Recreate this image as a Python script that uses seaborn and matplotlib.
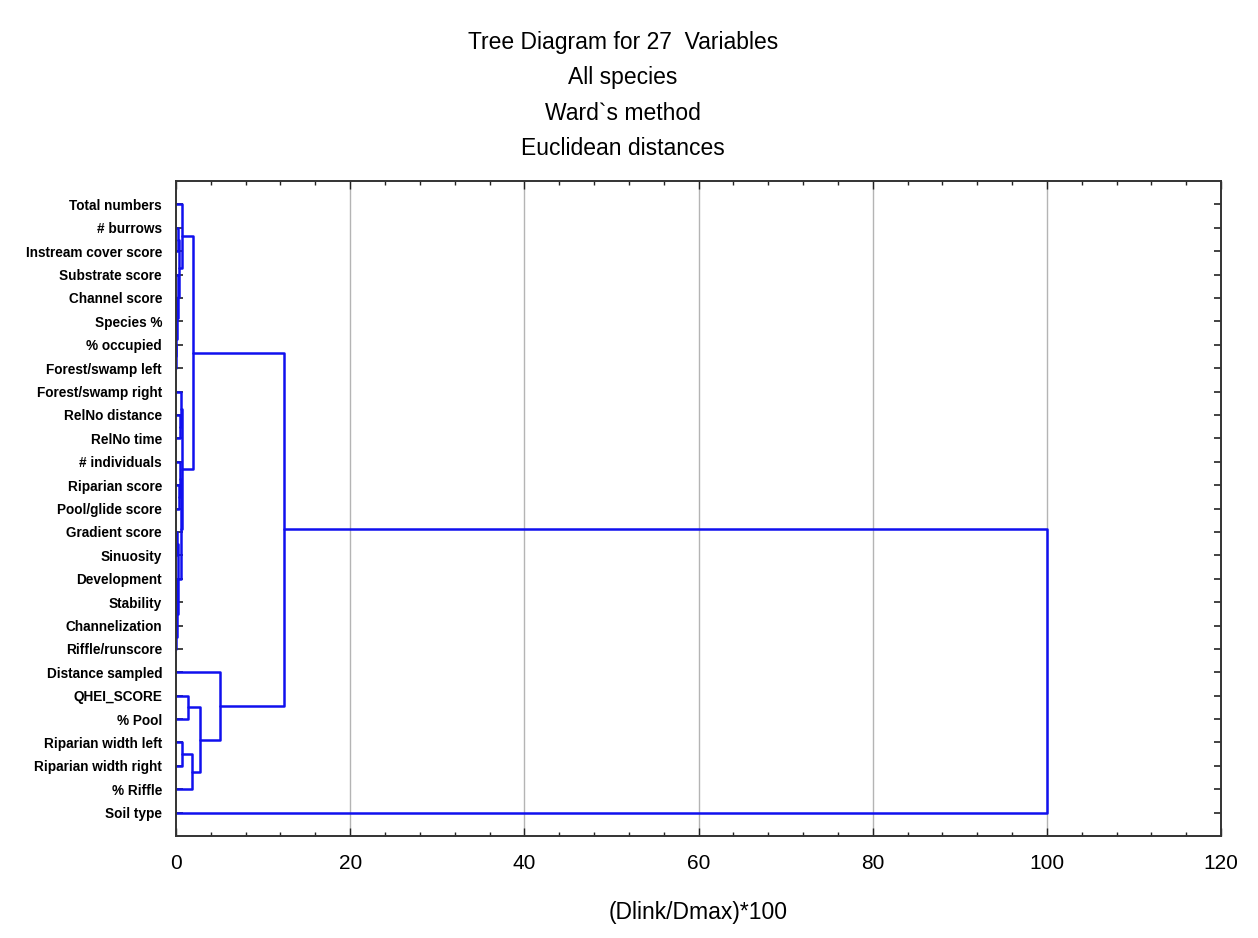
import matplotlib
matplotlib.use("Agg")
import matplotlib.pyplot as plt
from matplotlib.ticker import MultipleLocator
import numpy as np
import pandas as pd
import seaborn as sns

# Leaf variables, in dendrogram order (top to bottom)
variables = [
    "Total numbers", "# burrows", "Instream cover score", "Substrate score",
    "Channel score", "Species %", "% occupied", "Forest/swamp left",
    "Forest/swamp right", "RelNo distance", "RelNo time", "# individuals",
    "Riparian score", "Pool/glide score", "Gradient score", "Sinuosity",
    "Development", "Stability", "Channelization", "Riffle/runscore",
    "Distance sampled", "QHEI_SCORE", "% Pool", "Riparian width left",
    "Riparian width right", "% Riffle", "Soil type",
]

# Ward linkage steps: children are variable names or "@k" (k-th earlier merge);
# heights are (Dlink/Dmax)*100
merge_left = [
    "RelNo distance", "Forest/swamp right", "Riparian score", "# individuals",
    "Gradient score", "Development", "Channelization", "@5", "@4", "@3", "@1",
    "% occupied", "Species %", "Channel score", "Substrate score", "# burrows",
    "@15", "Total numbers", "@17", "Riparian width left", "@19", "QHEI_SCORE",
    "@21", "Distance sampled", "@18", "@24",
]
merge_right = [
    "RelNo time", "@0", "Pool/glide score", "@2", "Sinuosity", "Stability",
    "Riffle/runscore", "@6", "@7", "@8", "@9", "Forest/swamp left", "@11",
    "@12", "@13", "Instream cover score", "@14", "@16", "@10",
    "Riparian width right", "% Riffle", "% Pool", "@20", "@22", "@23",
    "Soil type",
]
merge_height = [
    0.5, 0.6, 0.4, 0.5, 0.1, 0.08, 0.03, 0.12, 0.2, 0.55, 0.7,
    0.02, 0.03, 0.1, 0.2, 0.25, 0.4, 0.7, 1.95, 0.65, 1.88, 1.41,
    2.76, 5.05, 12.4, 100.0,
]

x_ticks = [0, 20, 40, 60, 80, 100, 120]

leaf_pos = {name: i for i, name in enumerate(variables)}


def node(ref, placed):
    if ref.startswith("@"):
        return placed[int(ref[1:])]
    return (leaf_pos[ref], 0.0)


# Build the bracket segments of every merge
rows = []
placed = []
for k, (l, r, h) in enumerate(zip(merge_left, merge_right, merge_height)):
    yl, hl = node(l, placed)
    yr, hr = node(r, placed)
    xs = [hl, h, h, hr]
    ys = [yl, yl, yr, yr]
    for j, (xv, yv) in enumerate(zip(xs, ys)):
        rows.append({"link": k, "order": j, "dist": xv, "pos": yv})
    placed.append(((yl + yr) / 2.0, h))
segments = pd.DataFrame(rows)

sns.set_theme(style="white")
plt.rcParams["font.family"] = ["Liberation Sans", "DejaVu Sans"]

fig = plt.figure(figsize=(12.58, 9.38), dpi=100, facecolor="white")
ax = fig.add_axes([0.1399, 0.1087, 0.8307, 0.6983])

for xv in x_ticks[1:-1]:
    ax.axvline(xv, color="#b4b4b4", lw=1.0, zorder=0)

sns.lineplot(data=segments, x="dist", y="pos", units="link", estimator=None,
             sort=False, color="#1010ee", lw=1.8, ax=ax, legend=False)

ax.set_xlim(0, 120)
ax.set_ylim(len(variables), -1)
ax.set_xticks(x_ticks)
ax.set_xticklabels([str(v) for v in x_ticks], fontsize=15)
ax.xaxis.set_minor_locator(MultipleLocator(4))
ax.set_yticks(range(len(variables)))
ax.set_yticklabels(variables, fontsize=9.8, fontweight="bold")

ax.tick_params(axis="x", which="major", direction="in", length=6, width=1,
               pad=13, top=True, bottom=True, colors="#222222")
ax.tick_params(axis="x", which="minor", direction="in", length=3, width=1,
               top=True, bottom=True, colors="#222222")
ax.tick_params(axis="y", direction="in", length=5, width=1.2, pad=10,
               left=True, right=True, colors="#222222")
for lab in ax.get_xticklabels() + ax.get_yticklabels():
    lab.set_color("black")

for s in ax.spines.values():
    s.set_color("#333333")
    s.set_linewidth(1.4)

ax.set_xlabel("(Dlink/Dmax)*100", fontsize=16.5, labelpad=20, color="black")
ax.set_ylabel("")

title_lines = ["Tree Diagram for 27  Variables", "All species",
               "Ward`s method", "Euclidean distances"]
for i, t in enumerate(title_lines):
    fig.text(0.495, 1 - (42 + 35.5 * i) / 938, t, ha="center", va="center",
             fontsize=16.5, color="black")

fig.savefig("out.png", dpi=100, facecolor="white")
